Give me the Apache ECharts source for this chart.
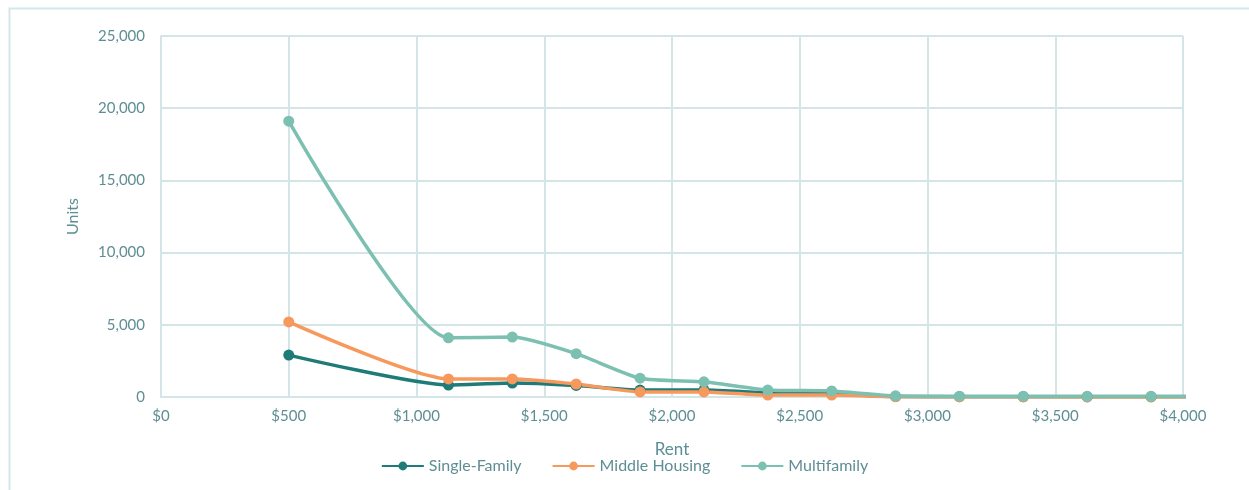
<!DOCTYPE html>
<html>
<head>
<meta charset="utf-8">
<script src="https://cdn.jsdelivr.net/npm/echarts@6/dist/echarts.min.js"></script>
<style>
  html, body { margin: 0; padding: 0; background: #fff; }
  #rentChart { width: 1249px; height: 490px; }
</style>
</head>
<body>
<div id="rentChart"></div>
<script>
// rent points ($) and unit counts
var rents = [500, 1125, 1375, 1625, 1875, 2125, 2375, 2625, 2875, 3125, 3375, 3625, 3875, 4125];
var singleFamily = [2900, 830, 970, 800, 480, 480, 300, 220, 30, 20, 15, 10, 10, 10];
var middleHousing = [5200, 1250, 1250, 900, 350, 350, 130, 130, 20, 10, 10, 5, 5, 5];
var multifamily = [19100, 4100, 4150, 3000, 1300, 1050, 480, 420, 80, 60, 60, 50, 50, 50];
var xTicks = { min: 0, max: 4000, interval: 500 };
var yTicks = { min: 0, max: 25000, interval: 5000 };

var textColor = '#5e8e95';
var gridColor = '#d4e5e8';
var fontName = 'Lato';

function pairs(values) {
    return rents.map(function (r, i) { return [r, values[i]]; });
}

function makeSeries(name, values, color) {
    return {
        name: name,
        type: 'line',
        smooth: 0.2,
        clip: true,
        symbol: 'circle',
        symbolSize: 11,
        data: pairs(values),
        lineStyle: { width: 3.5, color: color },
        itemStyle: { color: color }
    };
}

var chart = echarts.init(document.getElementById('rentChart'));
var option = {
    animation: false,
    textStyle: { fontFamily: fontName },
    graphic: [{
        type: 'rect',
        left: 7, top: 6,
        shape: { width: 1300, height: 600 },
        style: { fill: 'none', stroke: '#d6e7e9', lineWidth: 2 },
        silent: true
    }],
    grid: { left: 161, right: 66, top: 36, bottom: 93 },
    legend: {
        bottom: 11,
        left: 'center',
        itemWidth: 42,
        itemHeight: 11,
        itemGap: 30,
        textStyle: { color: textColor, fontSize: 16, fontFamily: fontName },
        data: ['Single-Family', 'Middle Housing', 'Multifamily']
    },
    xAxis: {
        type: 'value',
        min: xTicks.min, max: xTicks.max, interval: xTicks.interval,
        name: 'Rent',
        nameLocation: 'middle',
        nameGap: 44,
        nameTextStyle: { color: textColor, fontSize: 17 },
        axisLine: { show: true, lineStyle: { color: gridColor, width: 2 } },
        axisTick: { show: false },
        axisLabel: {
            color: textColor, fontSize: 15, margin: 12,
            formatter: function (v) { return '$' + v.toLocaleString('en-US'); }
        },
        splitLine: { show: true, lineStyle: { color: gridColor, width: 2 } }
    },
    yAxis: {
        type: 'value',
        min: yTicks.min, max: yTicks.max, interval: yTicks.interval,
        name: 'Units',
        nameLocation: 'middle',
        nameGap: 80,
        nameTextStyle: { color: textColor, fontSize: 16 },
        axisLine: { show: true, lineStyle: { color: gridColor, width: 2 } },
        axisTick: { show: false },
        axisLabel: {
            color: textColor, fontSize: 15, margin: 16,
            formatter: function (v) { return v.toLocaleString('en-US'); }
        },
        splitLine: { show: true, lineStyle: { color: gridColor, width: 2 } }
    },
    series: [
        makeSeries('Single-Family', singleFamily, '#1f7b78'),
        makeSeries('Middle Housing', middleHousing, '#f7995d'),
        makeSeries('Multifamily', multifamily, '#7cc0b1')
    ]
};
chart.setOption(option);
</script>
</body>
</html>
